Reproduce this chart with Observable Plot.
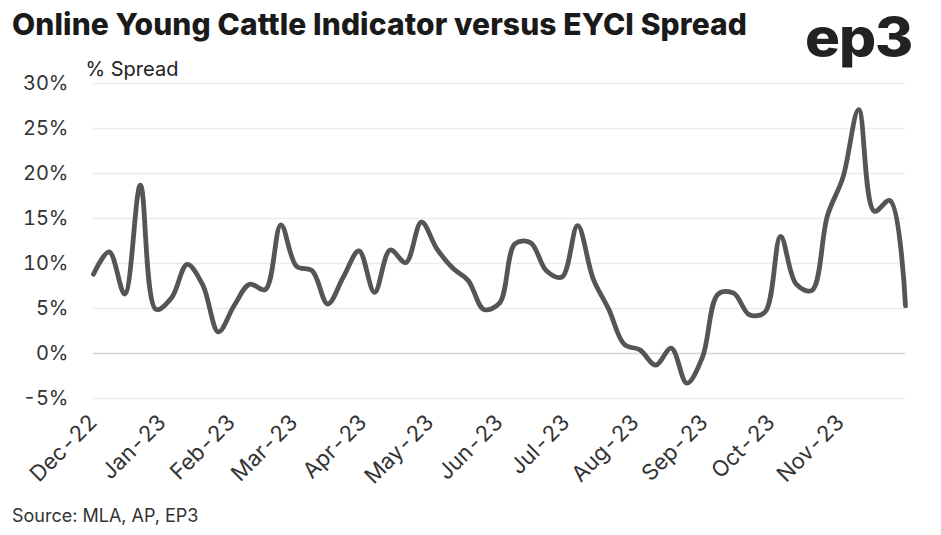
<!DOCTYPE html>
<html>
<head>
<meta charset="utf-8">
<script src="https://cdn.jsdelivr.net/npm/d3@7"></script>
<script src="https://cdn.jsdelivr.net/npm/@observablehq/plot@0.6"></script>
<style>
  html, body { margin: 0; padding: 0; background: #fff; }
  #wrap { position: relative; width: 941px; height: 535px; overflow: hidden; font-family: Inter, "Noto Sans", sans-serif; }
  #chart { position: absolute; left: 0; top: 50px; z-index: 1; }
  #title { position: absolute; left: 12px; top: 9px; font-size: 30px; line-height: 1; font-weight: 800; color: #1a1a1a; letter-spacing: 0.1px; white-space: nowrap; z-index: 2; }
  #logo { position: absolute; left: 805px; top: 11px; font-size: 53px; line-height: 1; font-weight: 800; color: #222; letter-spacing: -1px; transform: scaleX(1.1); transform-origin: left top; z-index: 2; }
  #source { position: absolute; left: 12px; top: 505px; font-size: 18px; color: #333; z-index: 2; }
</style>
</head>
<body>
<div id="wrap">
  <div id="title">Online Young Cattle Indicator versus EYCI Spread</div>
  <div id="logo">ep3</div>
  <div id="chart"></div>
  <div id="source">Source: MLA, AP, EP3</div>
</div>
<script>
// Weekly spread values (%), starting 1 Dec 2022
const startDate = "2022-12-01";
const spread = [
  8.8, 11.3, 6.6, 18.7, 4.9, 6.2, 9.9, 7.6, 2.4, 5.3,
  7.7, 7.1, 14.3, 9.7, 9.2, 5.5, 8.5, 11.4, 6.8, 11.5,
  10.1, 14.6, 11.6, 9.5, 8.1, 4.9, 5.6, 12.2, 12.3, 9.2,
  8.5, 14.2, 8.3, 4.9, 1.0, 0.4, -1.3, 0.6, -3.3, -0.4,
  6.6, 6.7, 4.3, 4.6, 13.0, 7.7, 7.0, 15.3, 19.6, 27.1,
  15.8, 17.0, 5.3
];
const yTicks = [-5, 0, 5, 10, 15, 20, 25, 30];
const monthTicks = ["2022-12-01","2023-01-01","2023-02-01","2023-03-01","2023-04-01","2023-05-01",
  "2023-06-01","2023-07-01","2023-08-01","2023-09-01","2023-10-01","2023-11-01"];

const t0 = new Date(startDate + "T00:00:00Z");
const data = spread.map((v, i) => ({date: new Date(t0.getTime() + i * 7 * 86400000), value: v}));
const xTicks = monthTicks.map(d => new Date(d + "T00:00:00Z"));
const fmt = d3.utcFormat("%b-%y");

const chart = Plot.plot({
  width: 941,
  height: 450,
  marginLeft: 93,
  marginRight: 36,
  marginTop: 33,
  marginBottom: 102,
  style: {fontFamily: "Inter, 'Noto Sans', sans-serif", fontSize: "19px", color: "#333", background: "transparent"},
  x: {type: "utc", domain: [data[0].date, data[data.length - 1].date]},
  y: {domain: [-5, 30]},
  marks: [
    Plot.ruleY(yTicks.filter(d => d !== 0), {stroke: "#ecece3", strokeWidth: 1.5}),
    Plot.ruleY([0], {stroke: "#d6d6d6", strokeWidth: 1.5}),
    Plot.axisY({ticks: yTicks, tickSize: 0, tickPadding: 25, tickFormat: d => d + "%", label: null, fontSize: 20}),
    Plot.axisX({ticks: xTicks, tickSize: 0, tickPadding: 20, tickRotate: -45, tickFormat: fmt, label: null, fontSize: 22, style: "letter-spacing: 1.2px"}),
    Plot.text(["% Spread"], {frameAnchor: "top-left", dx: -8, dy: -22, textAnchor: "start", fontSize: 20, fill: "#222", style: "letter-spacing: 0.6px"}),
    Plot.line(data, {x: "date", y: "value", stroke: "#555", strokeWidth: 4.8, curve: "catmull-rom", strokeLinecap: "round"})
  ]
});
document.getElementById("chart").appendChild(chart);
</script>
</body>
</html>
